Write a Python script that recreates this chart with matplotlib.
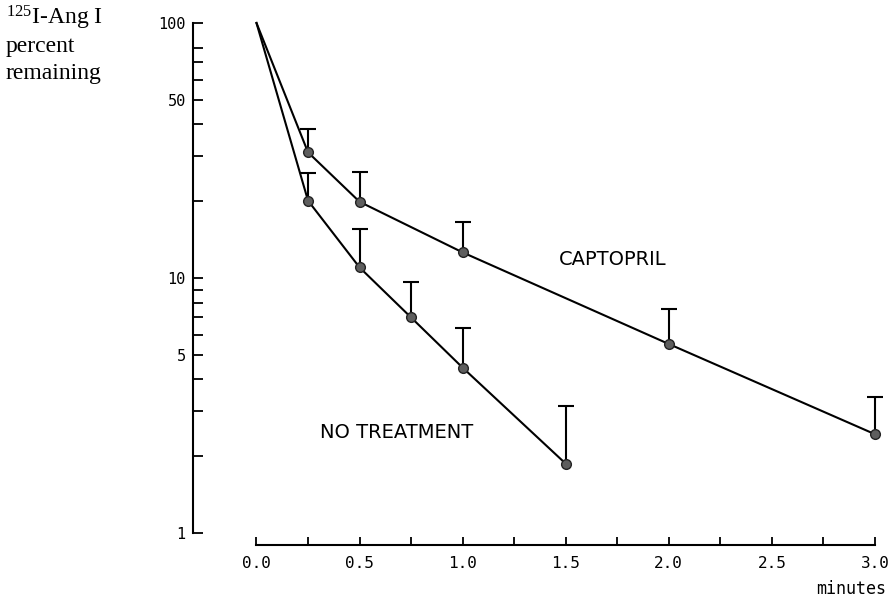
import numpy as np
import matplotlib
matplotlib.use('Agg')
import matplotlib.pyplot as plt
from matplotlib.ticker import FixedLocator, NullFormatter, FormatStrFormatter

# values (percent remaining vs minutes)
no_treat_t = [0.0, 0.25, 0.5, 0.75, 1.0, 1.5]
no_treat_val = [100, 20.1, 11.0, 7.0, 4.45, 1.87]
no_treat_top = [np.nan, 25.8, 15.6, 9.65, 6.37, 3.16]

capto_t = [0.0, 0.25, 0.5, 1.0, 2.0, 3.0]
capto_val = [100, 31.1, 19.9, 12.6, 5.51, 2.44]
capto_top = [np.nan, 38.4, 26.1, 16.6, 7.55, 3.41]

y_major = [1, 5, 10, 50, 100]
y_minor = [2, 3, 4, 6, 7, 8, 9, 20, 30, 40, 60, 70, 80]
x_major = [0.0, 0.5, 1.0, 1.5, 2.0, 2.5, 3.0]
x_minor = [0.25, 0.75, 1.25, 1.75, 2.25, 2.75]

mono = 'DejaVu Sans Mono'

fig = plt.figure(figsize=(8.94, 5.97), dpi=100)
ax = fig.add_axes([0.2869, 0.1072, 0.6918, 0.8543])
ax.set_yscale('log')
ax.set_xlim(0, 3)
ax.set_ylim(1, 100)

for t, v, top in [(no_treat_t, no_treat_val, no_treat_top),
                  (capto_t, capto_val, capto_top)]:
    t = np.array(t)
    v = np.array(v)
    top = np.array(top)
    ax.plot(t, v, color='black', lw=1.5, clip_on=False, zorder=2)
    m = ~np.isnan(top)
    ax.vlines(t[m], v[m], top[m], color='black', lw=1.5, zorder=2,
              clip_on=False)
    ax.plot(t[m], top[m], ls='none', marker='_', ms=11, mew=1.5,
            color='black', zorder=2, clip_on=False)
    ax.plot(t[m], v[m], ls='none', marker='o', ms=7, mfc='#5e5e5e',
            mec='#222222', mew=1.0, clip_on=False, zorder=3)

# detached spines like the original
for s in ['top', 'right']:
    ax.spines[s].set_visible(False)
ax.spines['left'].set_position(('outward', 46))
ax.spines['bottom'].set_position(('outward', 8.6))
ax.spines['left'].set_bounds(1, 100)
ax.spines['bottom'].set_bounds(0, 3)
ax.spines['left'].set_linewidth(1.5)
ax.spines['bottom'].set_linewidth(1.5)

ax.yaxis.set_major_locator(FixedLocator(y_major))
ax.yaxis.set_minor_locator(FixedLocator(y_minor))
ax.yaxis.set_major_formatter(FormatStrFormatter('%d'))
ax.yaxis.set_minor_formatter(NullFormatter())
ax.xaxis.set_major_locator(FixedLocator(x_major))
ax.xaxis.set_minor_locator(FixedLocator(x_minor))
ax.xaxis.set_major_formatter(FormatStrFormatter('%.1f'))

ax.tick_params(axis='y', which='both', direction='in', length=7.2,
               width=1.3, pad=5, labelsize=11)
ax.tick_params(axis='x', which='both', direction='in', length=5.8,
               width=1.3, pad=8, labelsize=11.5)
for lab in ax.get_xticklabels() + ax.get_yticklabels():
    lab.set_family(mono)

ax.text(1.73, 11.8, 'CAPTOPRIL', ha='center', va='center', fontsize=14,
        family='DejaVu Sans')
ax.text(0.68, 2.47, 'NO TREATMENT', ha='center', va='center', fontsize=14,
        family='DejaVu Sans')

fig.text(886 / 894, 1 - 589 / 597, 'minutes', ha='right', va='center',
         fontsize=12, family=mono)

serif = 'Liberation Serif'
plt.rcParams['mathtext.fontset'] = 'custom'
plt.rcParams['mathtext.rm'] = serif
fig.text(6 / 894, 1 - 25 / 597, r'$\mathregular{^{125}}$I-Ang I',
         ha='left', va='baseline', fontsize=17, family=serif)
fig.text(6 / 894, 1 - 52 / 597, 'percent', ha='left', va='baseline',
         fontsize=17, family=serif)
fig.text(6 / 894, 1 - 79 / 597, 'remaining', ha='left', va='baseline',
         fontsize=17, family=serif)

fig.savefig('out.png', dpi=100)
